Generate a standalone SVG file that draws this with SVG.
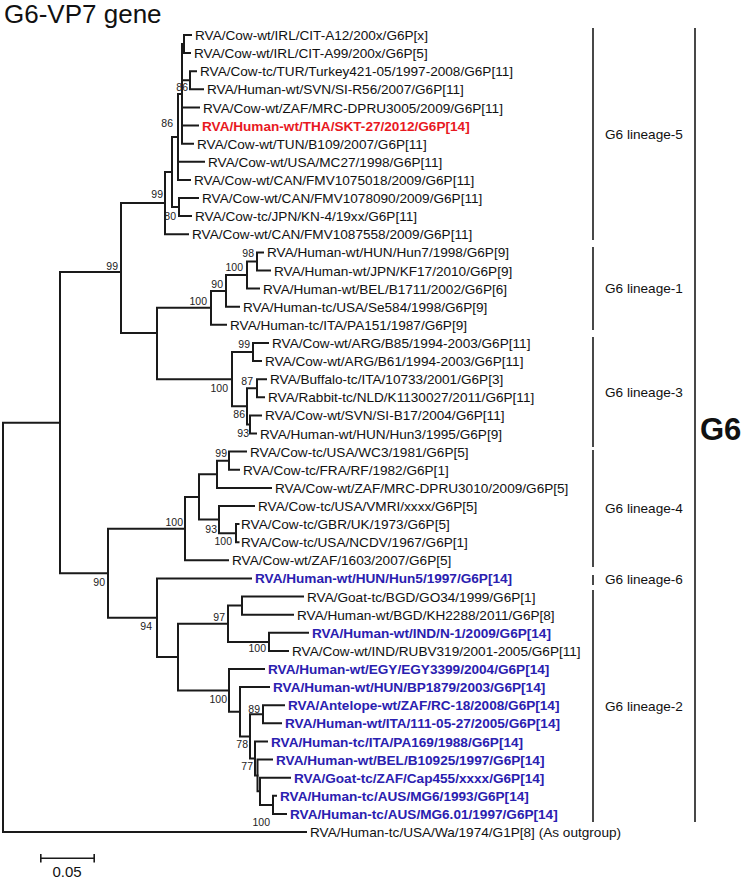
<svg xmlns="http://www.w3.org/2000/svg" width="744" height="879" viewBox="0 0 744 879">
<style>
text{font-family:"Liberation Sans",Arial,sans-serif}
.t{font-size:13.6px;fill:#111}
.b{font-size:13.6px;font-weight:bold;fill:#2a20b0}
.r{font-size:13.6px;font-weight:bold;fill:#e8191f}
.bs{font-size:10.5px;fill:#222;text-anchor:end}
.lin{font-size:13.6px;fill:#111}
.br{fill:none;stroke:#1a1a1a;stroke-width:2;stroke-linecap:square}
.bar{stroke:#1a1a1a;stroke-width:1.6}
</style>
<rect width="744" height="879" fill="#fff"/>
<text id="title" x="4" y="23" style="font-size:26px;fill:#111">G6-VP7 gene</text>
<g id="connectors">
<path class="br" d="M184 35V53.1M184 35H191M184 53.1H190"/>
<path class="br" d="M190 71.2V89.3M190 71.2H196M190 89.3H203"/>
<path class="br" d="M182 44.05V143.7M182 44.05H184M182 80.25H190M182 107.5H199M182 125.6H198M182 143.7H193"/>
<path class="br" d="M178 93.9V179.9M178 93.9H182M178 161.8H204M178 179.9H190"/>
<path class="br" d="M179 198V216.1M179 198H198M179 216.1H191"/>
<path class="br" d="M172 136.9V207.05M172 136.9H178M172 207.05H179"/>
<path class="br" d="M165 172V234.3M165 172H172M165 234.3H188"/>
<path class="br" d="M121 203.1V333M121 203.1H165M121 333H157"/>
<path class="br" d="M257 252.4V270.5M257 252.4H263M257 270.5H270"/>
<path class="br" d="M247 261.4V288.6M247 261.4H257M247 288.6H259"/>
<path class="br" d="M226 275V306.7M226 275H247M226 306.7H239"/>
<path class="br" d="M211 290.9V324.8M211 290.9H226M211 324.8H226"/>
<path class="br" d="M253 342.9V361.1M253 342.9H268M253 361.1H261"/>
<path class="br" d="M257 379.2V397.3M257 379.2H266M257 397.3H264"/>
<path class="br" d="M250 415.4V433.5M250 415.4H261M250 433.5H256"/>
<path class="br" d="M247 388.2V424.5M247 388.2H257M247 424.5H250"/>
<path class="br" d="M232 352V406.3M232 352H253M232 406.3H247"/>
<path class="br" d="M157 307.8V379.2M157 307.8H211M157 379.2H232"/>
<path class="br" d="M229 451.6V469.7M229 451.6H246M229 469.7H239"/>
<path class="br" d="M217 460.7V487.9M217 460.7H229M217 487.9H271"/>
<path class="br" d="M236 524.1V542.2M236 524.1H238.5M236 542.2H238.5"/>
<path class="br" d="M219 506V533.2M219 506H254M219 533.2H236"/>
<path class="br" d="M199 474.3V519.6M199 474.3H217M199 519.6H219"/>
<path class="br" d="M185 497V560.3M185 497H199M185 560.3H228"/>
<path class="br" d="M242 596.5V614.7M242 596.5H303M242 614.7H293"/>
<path class="br" d="M269 632.8V650.9M269 632.8H308M269 650.9H288"/>
<path class="br" d="M228 605.6V641.9M228 605.6H242M228 641.9H269"/>
<path class="br" d="M263 705.2V723.3M263 705.2H284M263 723.3H281"/>
<path class="br" d="M273 795.8V813.9M273 795.8H276M273 813.9H286"/>
<path class="br" d="M260 777.7V804.9M260 777.7H290M260 804.9H273"/>
<path class="br" d="M257.5 759.6V791.3M257.5 759.6H272M257.5 791.3H260"/>
<path class="br" d="M255 741.5V775.5M255 741.5H267M255 775.5H257.5"/>
<path class="br" d="M250 714.3V758.5M250 714.3H263M250 758.5H255"/>
<path class="br" d="M240 687.1V736.4M240 687.1H269M240 736.4H250"/>
<path class="br" d="M229 669V711.8M229 669H264M229 711.8H240"/>
<path class="br" d="M178 623.8V690.4M178 623.8H228M178 690.4H229"/>
<path class="br" d="M157 578.4V657.1M157 578.4H251M157 657.1H178"/>
<path class="br" d="M108 528.7V617.8M108 528.7H185M108 617.8H157"/>
<path class="br" d="M60 272V573.3M60 272H121M60 573.3H108"/>
<path class="br" d="M3 422.7V832M3 422.7H60M3 832H306"/>
</g>
<g id="bootstrap">
<text class="bs" x="188" y="91">86</text>
<text class="bs" x="173" y="127">86</text>
<text class="bs" x="163" y="198">99</text>
<text class="bs" x="176" y="220">80</text>
<text class="bs" x="118" y="270">99</text>
<text class="bs" x="254" y="257">98</text>
<text class="bs" x="243" y="271">100</text>
<text class="bs" x="223" y="288">90</text>
<text class="bs" x="207" y="305">100</text>
<text class="bs" x="250" y="348">99</text>
<text class="bs" x="228" y="392">100</text>
<text class="bs" x="253" y="385">87</text>
<text class="bs" x="245" y="418">86</text>
<text class="bs" x="249" y="437">93</text>
<text class="bs" x="227" y="457">99</text>
<text class="bs" x="183" y="526">100</text>
<text class="bs" x="217" y="533">93</text>
<text class="bs" x="232" y="545">100</text>
<text class="bs" x="105" y="586">90</text>
<text class="bs" x="225" y="621">97</text>
<text class="bs" x="152" y="630">94</text>
<text class="bs" x="266" y="652">100</text>
<text class="bs" x="227" y="703">100</text>
<text class="bs" x="260" y="713">89</text>
<text class="bs" x="248" y="748">78</text>
<text class="bs" x="253" y="770">77</text>
<text class="bs" x="270" y="826">100</text>
</g>
<g id="leaves">
<g id="n1"><text class="t" x="195" y="40">RVA/Cow-wt/IRL/CIT-A12/200x/G6P[x]</text></g>
<g id="n2"><text class="t" x="194" y="58.1">RVA/Cow-wt/IRL/CIT-A99/200x/G6P[5]</text></g>
<g id="n3"><text class="t" x="200" y="76.2">RVA/Cow-tc/TUR/Turkey421-05/1997-2008/G6P[11]</text></g>
<g id="n4"><text class="t" x="207" y="94.3">RVA/Human-wt/SVN/SI-R56/2007/G6P[11]</text></g>
<g id="n5"><text class="t" x="203" y="112.5">RVA/Cow-wt/ZAF/MRC-DPRU3005/2009/G6P[11]</text></g>
<g id="n6"><text class="r" x="202" y="130.6">RVA/Human-wt/THA/SKT-27/2012/G6P[14]</text></g>
<g id="n7"><text class="t" x="197" y="148.7">RVA/Cow-wt/TUN/B109/2007/G6P[11]</text></g>
<g id="n8"><text class="t" x="208" y="166.8">RVA/Cow-wt/USA/MC27/1998/G6P[11]</text></g>
<g id="n9"><text class="t" x="194" y="184.9">RVA/Cow-wt/CAN/FMV1075018/2009/G6P[11]</text></g>
<g id="n10"><text class="t" x="202" y="203">RVA/Cow-wt/CAN/FMV1078090/2009/G6P[11]</text></g>
<g id="n11"><text class="t" x="195" y="221.1">RVA/Cow-tc/JPN/KN-4/19xx/G6P[11]</text></g>
<g id="n12"><text class="t" x="192" y="239.3">RVA/Cow-wt/CAN/FMV1087558/2009/G6P[11]</text></g>
<g id="n13"><text class="t" x="267" y="257.4">RVA/Human-wt/HUN/Hun7/1998/G6P[9]</text></g>
<g id="n14"><text class="t" x="274" y="275.5">RVA/Human-wt/JPN/KF17/2010/G6P[9]</text></g>
<g id="n15"><text class="t" x="263" y="293.6">RVA/Human-wt/BEL/B1711/2002/G6P[6]</text></g>
<g id="n16"><text class="t" x="243" y="311.7">RVA/Human-tc/USA/Se584/1998/G6P[9]</text></g>
<g id="n17"><text class="t" x="230" y="329.8">RVA/Human-tc/ITA/PA151/1987/G6P[9]</text></g>
<g id="n18"><text class="t" x="272" y="347.9">RVA/Cow-wt/ARG/B85/1994-2003/G6P[11]</text></g>
<g id="n19"><text class="t" x="265" y="366.1">RVA/Cow-wt/ARG/B61/1994-2003/G6P[11]</text></g>
<g id="n20"><text class="t" x="270" y="384.2">RVA/Buffalo-tc/ITA/10733/2001/G6P[3]</text></g>
<g id="n21"><text class="t" x="268" y="402.3">RVA/Rabbit-tc/NLD/K1130027/2011/G6P[11]</text></g>
<g id="n22"><text class="t" x="265" y="420.4">RVA/Cow-wt/SVN/SI-B17/2004/G6P[11]</text></g>
<g id="n23"><text class="t" x="260" y="438.5">RVA/Human-wt/HUN/Hun3/1995/G6P[9]</text></g>
<g id="n24"><text class="t" x="250" y="456.6">RVA/Cow-tc/USA/WC3/1981/G6P[5]</text></g>
<g id="n25"><text class="t" x="243" y="474.7">RVA/Cow-tc/FRA/RF/1982/G6P[1]</text></g>
<g id="n26"><text class="t" x="275" y="492.9">RVA/Cow-wt/ZAF/MRC-DPRU3010/2009/G6P[5]</text></g>
<g id="n27"><text class="t" x="258" y="511">RVA/Cow-tc/USA/VMRI/xxxx/G6P[5]</text></g>
<g id="n28"><text class="t" x="241" y="529.1">RVA/Cow-tc/GBR/UK/1973/G6P[5]</text></g>
<g id="n29"><text class="t" x="241" y="547.2">RVA/Cow-tc/USA/NCDV/1967/G6P[1]</text></g>
<g id="n30"><text class="t" x="232" y="565.3">RVA/Cow-wt/ZAF/1603/2007/G6P[5]</text></g>
<g id="n31"><text class="b" x="255" y="583.4">RVA/Human-wt/HUN/Hun5/1997/G6P[14]</text></g>
<g id="n32"><text class="t" x="307" y="601.5">RVA/Goat-tc/BGD/GO34/1999/G6P[1]</text></g>
<g id="n33"><text class="t" x="297" y="619.7">RVA/Human-wt/BGD/KH2288/2011/G6P[8]</text></g>
<g id="n34"><text class="b" x="312" y="637.8">RVA/Human-wt/IND/N-1/2009/G6P[14]</text></g>
<g id="n35"><text class="t" x="292" y="655.9">RVA/Cow-wt/IND/RUBV319/2001-2005/G6P[11]</text></g>
<g id="n36"><text class="b" x="268" y="674">RVA/Human-wt/EGY/EGY3399/2004/G6P[14]</text></g>
<g id="n37"><text class="b" x="273" y="692.1">RVA/Human-wt/HUN/BP1879/2003/G6P[14]</text></g>
<g id="n38"><text class="b" x="288" y="710.2">RVA/Antelope-wt/ZAF/RC-18/2008/G6P[14]</text></g>
<g id="n39"><text class="b" x="285" y="728.3">RVA/Human-wt/ITA/111-05-27/2005/G6P[14]</text></g>
<g id="n40"><text class="b" x="271" y="746.5">RVA/Human-tc/ITA/PA169/1988/G6P[14]</text></g>
<g id="n41"><text class="b" x="276" y="764.6">RVA/Human-wt/BEL/B10925/1997/G6P[14]</text></g>
<g id="n42"><text class="b" x="294" y="782.7">RVA/Goat-tc/ZAF/Cap455/xxxx/G6P[14]</text></g>
<g id="n43"><text class="b" x="280" y="800.8">RVA/Human-tc/AUS/MG6/1993/G6P[14]</text></g>
<g id="n44"><text class="b" x="290" y="818.9">RVA/Human-tc/AUS/MG6.01/1997/G6P[14]</text></g>
<g id="n45"><text class="t" x="310" y="837">RVA/Human-tc/USA/Wa/1974/G1P[8] (As outgroup)</text></g>
</g>
<g id="lineages">
<line class="bar" x1="593" y1="28" x2="593" y2="240"/>
<line class="bar" x1="593" y1="247" x2="593" y2="330"/>
<line class="bar" x1="593" y1="337" x2="593" y2="447"/>
<line class="bar" x1="593" y1="450" x2="593" y2="567"/>
<line class="bar" x1="593" y1="575" x2="593" y2="585"/>
<line class="bar" x1="593" y1="590" x2="593" y2="822"/>
<line class="bar" x1="695" y1="28" x2="695" y2="822"/>
<text class="lin" x="605" y="139">G6 lineage-5</text>
<text class="lin" x="605" y="293">G6 lineage-1</text>
<text class="lin" x="605" y="397">G6 lineage-3</text>
<text class="lin" x="605" y="513">G6 lineage-4</text>
<text class="lin" x="605" y="584">G6 lineage-6</text>
<text class="lin" x="605" y="711">G6 lineage-2</text>
<text x="700" y="440" style="font-size:31px;font-weight:bold;fill:#111">G6</text>
</g>
<g id="scalebar">
<path class="br" style="stroke-width:1.6;stroke-linecap:butt" d="M40 858.3H95M40.8 854V862.6M94.2 854V862.6"/>
<text x="67" y="877" style="font-size:15px;fill:#111;text-anchor:middle">0.05</text>
</g>
</svg>
